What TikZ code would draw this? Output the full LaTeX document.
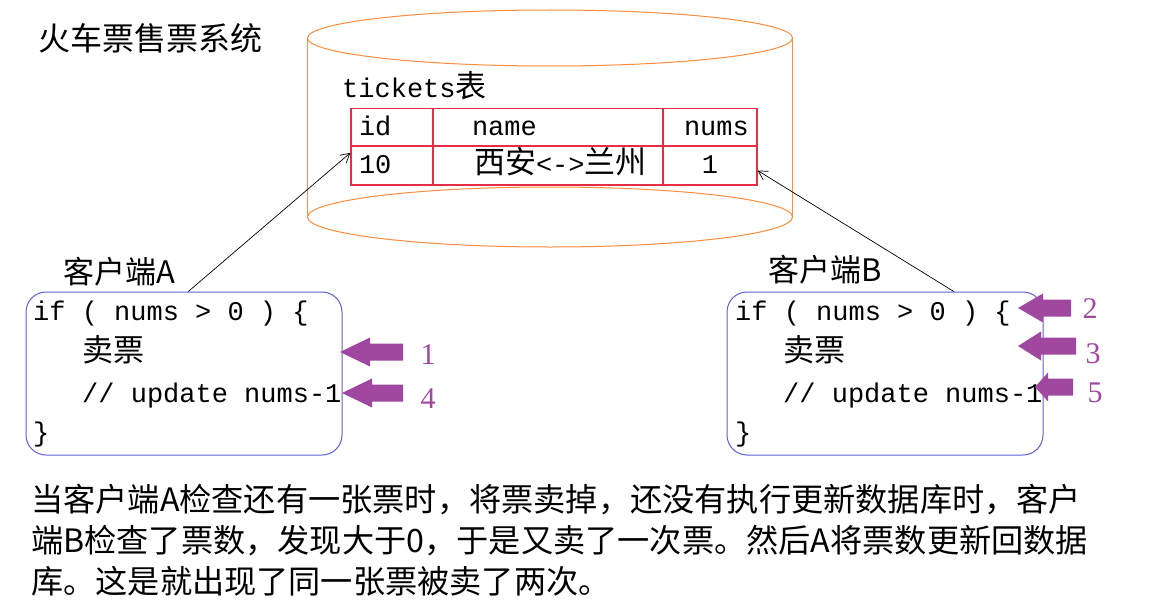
\documentclass[tikz,border=0pt]{standalone}
\usepackage{fontspec}
\setmainfont{Liberation Serif}
\newfontfamily\cjk{Noto Sans CJK SC}
\newfontfamily\mono{Liberation Mono}
\usetikzlibrary{arrows.meta}
\definecolor{dborange}{RGB}{255,140,60}
\definecolor{tblred}{RGB}{230,45,70}
\definecolor{boxblue}{RGB}{95,95,220}
\definecolor{steppurple}{RGB}{160,72,160}
\newcommand{\zh}[1]{{\cjk\fontsize{31}{38}\selectfont #1}}
\newcommand{\cd}[1]{{\mono\fontsize{27}{38}\selectfont #1}}

\begin{document}
\begin{tikzpicture}[x=1pt, y=-1pt, every node/.style={inner sep=0pt},
  codebox/.style={draw=boxblue, line width=1pt, rounded corners=20pt,
    minimum width=316pt, minimum height=163pt},
  cell/.style={draw=tblred, line width=1.2pt, align=left},
  link/.style={-{Straight Barb[length=9pt,width=10pt]}, line width=0.7pt},
  num/.style={text=steppurple, font=\fontsize{30}{36}\selectfont},
  note/.style={anchor=west, font=\cjk\fontsize{32.2}{40}\selectfont},
  pics/fatarrow/.style 2 args={code={
    \fill[steppurple] (0,0) -- (#2,-14.5) -- (#2,-8.5) -- (#1,-8.5)
      -- (#1,8.5) -- (#2,8.5) -- (#2,14.5) -- cycle;}}]
  \fill[white] (0,0) rectangle (1173,610);
  \useasboundingbox (0,0) rectangle (1173,610);
  % title
  \node[anchor=west] (title) at (38,38) {{\cjk\fontsize{32}{38}\selectfont 火车票售票系统}};
  % database
  \draw[dborange, line width=1pt] (550,38) ellipse [x radius=242.5, y radius=28];
  \draw[dborange, line width=1pt] (550,217) ellipse [x radius=242.5, y radius=30];
  \draw[dborange, line width=1pt] (307.5,38) -- (307.5,217);
  \draw[dborange, line width=1pt] (792.5,38) -- (792.5,217);
  \node[anchor=base west] (tname) at (342,97) {\cd{tickets}\zh{表}};
  % table
  \node[cell, minimum height=37pt, text width=82pt] (cid) at (392,127.5) {\hspace*{8pt}\cd{\strut id}};
  \node[cell, minimum height=37pt, text width=230pt] (cname) at (548,127.5) {\hspace*{39pt}\cd{\strut name}};
  \node[cell, minimum height=37pt, text width=94pt] (cnums) at (710,127.5) {\hspace*{21pt}\cd{\strut nums}};
  \node[cell, minimum height=39pt, text width=82pt] (cten) at (392,165.5) {\hspace*{8pt}\cd{\strut 10}};
  \node[cell, minimum height=39pt, text width=230pt] (croute) at (548,165.5) {\hspace*{41pt}\zh{西安}\cd{\strut <->}\zh{兰州}};
  \node[cell, minimum height=39pt, text width=94pt, align=center] (cone) at (710,165.5) {\cd{\strut 1}};
  % client A
  \node[anchor=west] (labA) at (63,272) {\zh{客户端A}};
  \node[codebox] (boxA) at (184,373.5) {};
  \node[anchor=base west] (codeA1) at (33,320) {\cd{if ( nums > 0 ) \{}};
  \node[anchor=base west] (codeA2) at (82,361) {\zh{卖票}};
  \node[anchor=base west] (codeA3) at (82,402) {\cd{// update nums-1}};
  \node[anchor=base west] (codeA4) at (33,441) {\cd{\}}};
  % client B
  \node[anchor=west] (labB) at (768,270) {\zh{客户端B}};
  \node[codebox] (boxB) at (885,373.5) {};
  \node[anchor=base west] (codeB1) at (735,320) {\cd{if ( nums > 0 ) \{}};
  \node[anchor=base west] (codeB2) at (783,361) {\zh{卖票}};
  \node[anchor=base west] (codeB3) at (783,402) {\cd{// update nums-1}};
  \node[anchor=base west] (codeB4) at (735,441) {\cd{\}}};
  % links to the table
  \draw[link] (boxA.87) -- (cten.163);
  \draw[link] (boxB.50) -- (cone.-6);
  % order of steps
  \pic at (340,352) {fatarrow={63}{30}};
  \pic at (342,393) {fatarrow={61}{30}};
  \pic at (1018,308) {fatarrow={53}{25}};
  \pic at (1018,346) {fatarrow={58}{23}};
  \pic at (1035,387) {fatarrow={38}{13}};
  \node[num] (n1) at (428,355) {1};
  \node[num] (n4) at (428,399) {4};
  \node[num] (n2) at (1090,309) {2};
  \node[num] (n3) at (1093,354) {3};
  \node[num] (n5) at (1095,393) {5};
  % explanation
  \node[note] (note1) at (31,500) {当客户端A检查还有一张票时，将票卖掉，还没有执行更新数据库时，客户};
  \node[note] (note2) at (31,541) {端B检查了票数，发现大于0，于是又卖了一次票。然后A将票数更新回数据};
  \node[note] (note3) at (31,581) {库。这是就出现了同一张票被卖了两次。};
\end{tikzpicture}
\end{document}
